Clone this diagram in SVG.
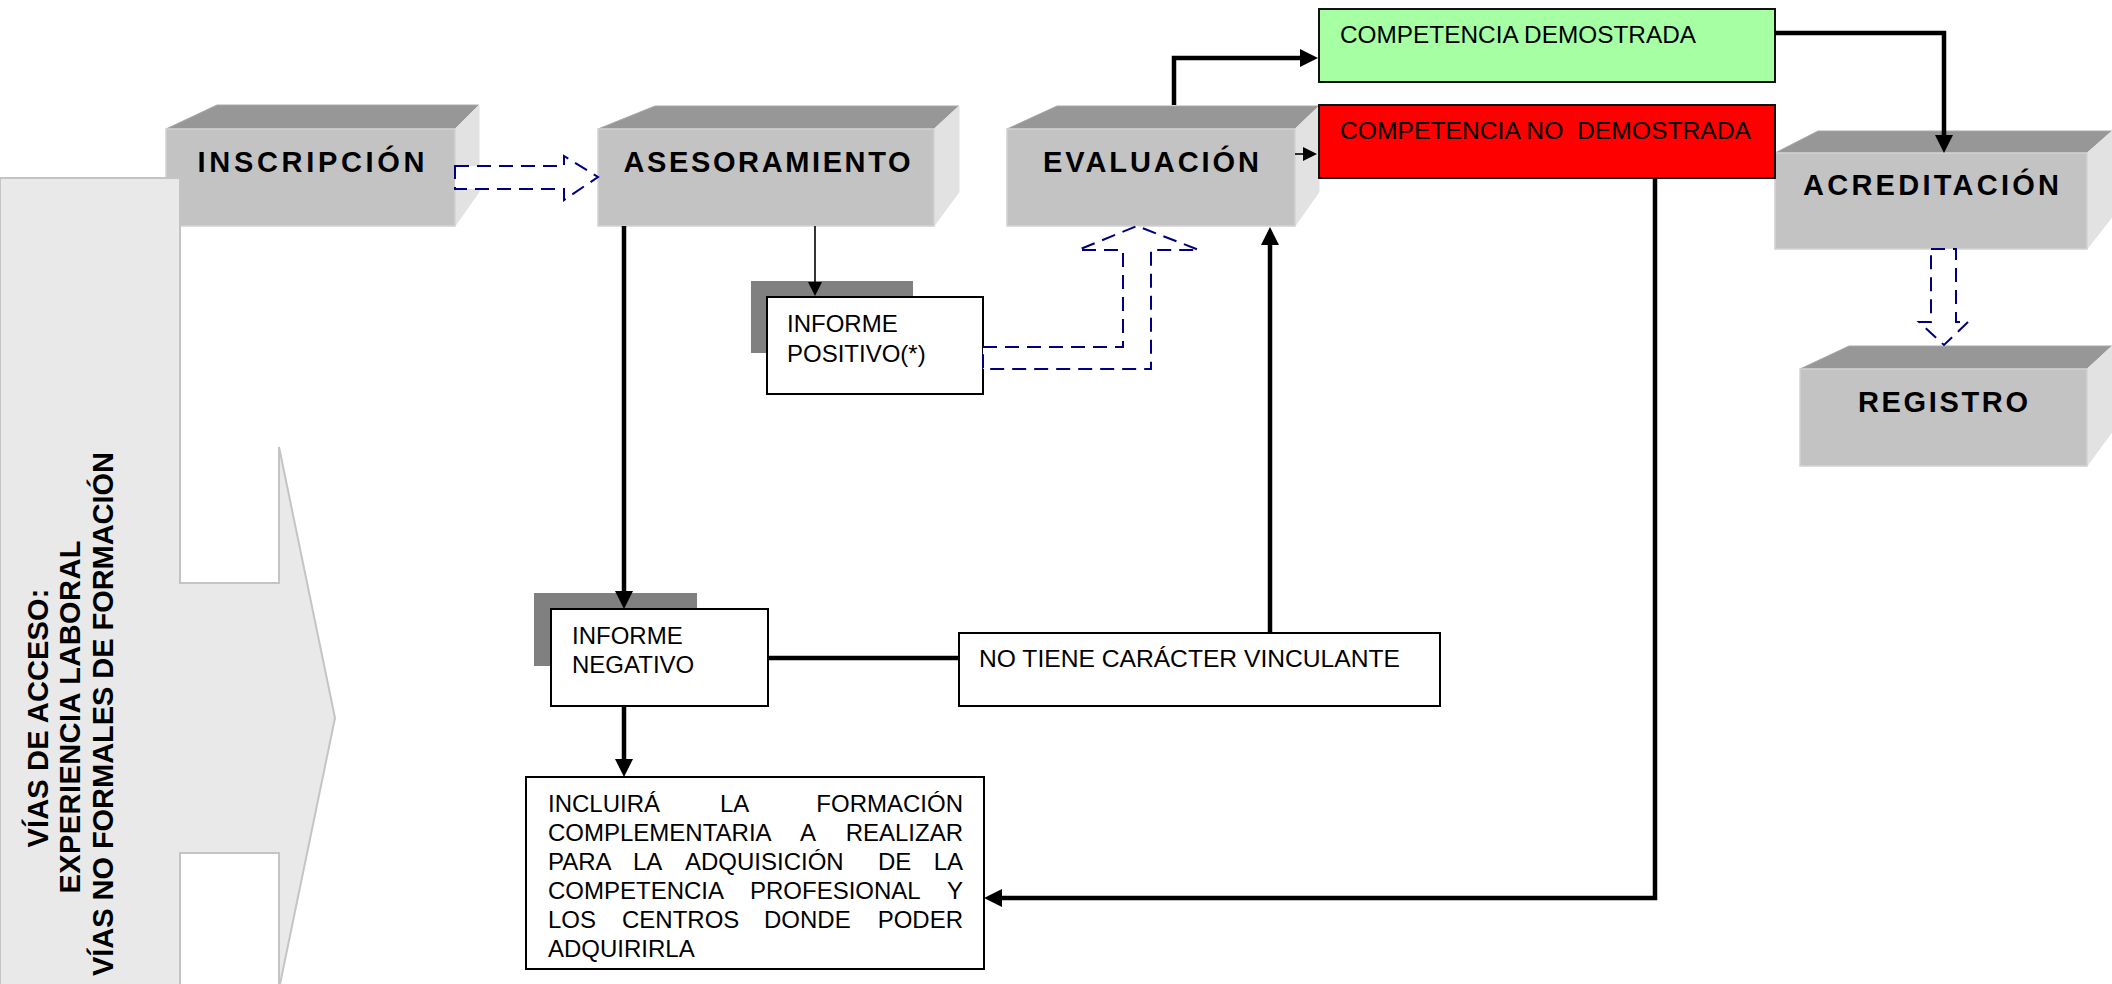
<svg xmlns="http://www.w3.org/2000/svg" width="2112" height="984" viewBox="0 0 2112 984">
<style>
.front{fill:#C3C3C3;stroke:#D2D2D2;stroke-width:1.5}
.top{fill:#979797;stroke:#A8A8A8;stroke-width:1}
.side{fill:#E2E2E2;stroke:#E2E2E2;stroke-width:1}
.lbl{font-family:"Liberation Sans",Arial,sans-serif;font-weight:bold;font-size:29px;fill:#000}
.txt{font-family:"Liberation Sans",Arial,sans-serif;font-size:24px;fill:#000}
.vtxt{font-family:"Liberation Sans",Arial,sans-serif;font-weight:bold;font-size:29px;fill:#000}
.box{fill:#fff;stroke:#000;stroke-width:2}
.shadow{fill:#808080}
.thick{fill:none;stroke:#000;stroke-width:4.5}
.thin{fill:none;stroke:#000;stroke-width:1.6}
.dash{fill:#fff;stroke:#000080;stroke-width:2;stroke-dasharray:14 8}
</style>
<defs>
<marker id="ah" markerUnits="userSpaceOnUse" markerWidth="20" markerHeight="20" viewBox="0 0 20 20" refX="13" refY="10" orient="auto">
<path d="M1,1 L19,10 L1,19 z" fill="#000"/>
</marker>
<marker id="ahs" markerUnits="userSpaceOnUse" markerWidth="16" markerHeight="16" viewBox="0 0 16 16" refX="11" refY="8" orient="auto">
<path d="M1,1 L15,8 L1,15 z" fill="#000"/>
</marker>
</defs>

<g id="inscripcion">
<polygon class="top" points="166,129 217,105 479,105 455,129"/>
<polygon class="side" points="455,129 479,105 479,192 455,226"/>
<rect class="front" x="166" y="129" width="289" height="97"/>
<text class="lbl" x="311" y="172" text-anchor="middle" textLength="227" lengthAdjust="spacing">INSCRIPCIÓN</text>
</g>

<g id="vias-acceso">
<path d="M0,178 L180,178 L180,583 L279,583 L279,447 L335,718 L279,989 L279,853 L180,853 L180,1000 L0,1000 Z" fill="#E9E9E9" stroke="#C4C4C4" stroke-width="2"/>
<text class="vtxt" transform="translate(48,718) rotate(-90)" text-anchor="middle" textLength="259" lengthAdjust="spacing">VÍAS DE ACCESO:</text>
<text class="vtxt" transform="translate(80,717) rotate(-90)" text-anchor="middle" textLength="353" lengthAdjust="spacing">EXPERIENCIA LABORAL</text>
<text class="vtxt" transform="translate(113,714) rotate(-90)" text-anchor="middle" textLength="524" lengthAdjust="spacing">VÍAS NO FORMALES DE FORMACIÓN</text>
</g>

<g id="asesoramiento">
<polygon class="top" points="598,129 655,106 959,106 934,129"/>
<polygon class="side" points="934,129 959,106 959,192 934,226"/>
<rect class="front" x="598" y="129" width="336" height="97"/>
<text class="lbl" x="767" y="172" text-anchor="middle" textLength="287" lengthAdjust="spacing">ASESORAMIENTO</text>
</g>

<g id="evaluacion">
<polygon class="top" points="1007,129 1057,106 1319,106 1295,129"/>
<polygon class="side" points="1295,129 1319,106 1319,192 1295,226"/>
<rect class="front" x="1007" y="129" width="288" height="97"/>
<text class="lbl" x="1151" y="172" text-anchor="middle" textLength="216" lengthAdjust="spacing">EVALUACIÓN</text>
</g>

<g id="acreditacion">
<polygon class="top" points="1775,153 1818,131 2112,131 2087,153"/>
<polygon class="side" points="2087,153 2112,131 2112,217 2087,249"/>
<rect class="front" x="1775" y="153" width="312" height="96"/>
<text class="lbl" x="1931" y="195" text-anchor="middle" textLength="256" lengthAdjust="spacing">ACREDITACIÓN</text>
</g>

<g id="registro">
<polygon class="top" points="1800,369 1849,346 2112,346 2087,369"/>
<polygon class="side" points="2087,369 2112,346 2112,432 2087,466"/>
<rect class="front" x="1800" y="369" width="287" height="97"/>
<text class="lbl" x="1943" y="412" text-anchor="middle" textLength="170" lengthAdjust="spacing">REGISTRO</text>
</g>

<g id="competencia-demostrada">
<rect x="1319" y="9" width="456" height="73" fill="#A6FFA3" stroke="#111" stroke-width="2"/>
<text class="txt" x="1340" y="43" textLength="356" lengthAdjust="spacingAndGlyphs">COMPETENCIA DEMOSTRADA</text>
</g>

<g id="competencia-no-demostrada">
<rect x="1319" y="105" width="456" height="73" fill="#FF0000" stroke="#111" stroke-width="2"/>
<text class="txt" x="1340" y="139" style="white-space:pre" textLength="411" lengthAdjust="spacingAndGlyphs">COMPETENCIA NO  DEMOSTRADA</text>
</g>

<g id="informe-positivo">
<rect class="shadow" x="751" y="281" width="162" height="72"/>
<rect class="box" x="767" y="297" width="216" height="97"/>
<text class="txt" x="787" y="332">INFORME</text>
<text class="txt" x="787" y="362">POSITIVO(*)</text>
</g>

<g id="informe-negativo">
<rect class="shadow" x="534" y="593" width="163" height="73"/>
<rect class="box" x="551" y="609" width="217" height="97"/>
<text class="txt" x="572" y="644">INFORME</text>
<text class="txt" x="572" y="673">NEGATIVO</text>
</g>

<g id="no-vinculante">
<rect class="box" x="959" y="633" width="481" height="73"/>
<text class="txt" x="979" y="667" textLength="421" lengthAdjust="spacingAndGlyphs">NO TIENE CARÁCTER VINCULANTE</text>
</g>

<g id="formacion-complementaria">
<rect class="box" x="526" y="777" width="458" height="192"/>
<text class="txt" y="812"><tspan x="548">INCLUIRÁ</tspan><tspan x="720">LA</tspan><tspan x="963" text-anchor="end">FORMACIÓN</tspan></text>
<text class="txt" y="841"><tspan x="548">COMPLEMENTARIA</tspan><tspan x="800">A</tspan><tspan x="963" text-anchor="end">REALIZAR</tspan></text>
<text class="txt" y="870"><tspan x="548">PARA</tspan><tspan x="633">LA</tspan><tspan x="685">ADQUISICIÓN</tspan><tspan x="878">DE</tspan><tspan x="963" text-anchor="end">LA</tspan></text>
<text class="txt" y="899"><tspan x="548">COMPETENCIA</tspan><tspan x="750">PROFESIONAL</tspan><tspan x="963" text-anchor="end">Y</tspan></text>
<text class="txt" y="928"><tspan x="548">LOS</tspan><tspan x="622">CENTROS</tspan><tspan x="764">DONDE</tspan><tspan x="963" text-anchor="end">PODER</tspan></text>
<text class="txt" x="548" y="957">ADQUIRIRLA</text>
</g>

<g id="connectors">
<polygon class="dash" points="455,166 564,166 564,156 598,177 564,200 564,189 455,189"/>
<polygon class="dash" points="983,347 1123,347 1123,250 1078,250 1137,226 1199,250 1151,250 1151,369 983,369"/>
<polygon class="dash" points="1931,249 1956,249 1956,322 1968,322 1944,345 1919,322 1931,322"/>
<path class="thick" d="M1174,105 L1174,58 L1312,58" marker-end="url(#ah)"/>
<path class="thin" d="M1295,154 L1313,154" stroke-width="2" marker-end="url(#ahs)"/>
<path class="thick" d="M1775,33 L1944,33 L1944,147" marker-end="url(#ah)"/>
<path class="thick" d="M1655,178 L1655,898 L990,898" marker-end="url(#ah)"/>
<path class="thick" d="M1270,633 L1270,233" marker-end="url(#ah)"/>
<path class="thick" d="M624,226 L624,603" marker-end="url(#ah)"/>
<path class="thick" d="M624,706 L624,771" marker-end="url(#ah)"/>
<path class="thick" d="M768,658 L959,658"/>
<path class="thin" d="M815,226 L815,292" marker-end="url(#ahs)"/>
</g>
</svg>
